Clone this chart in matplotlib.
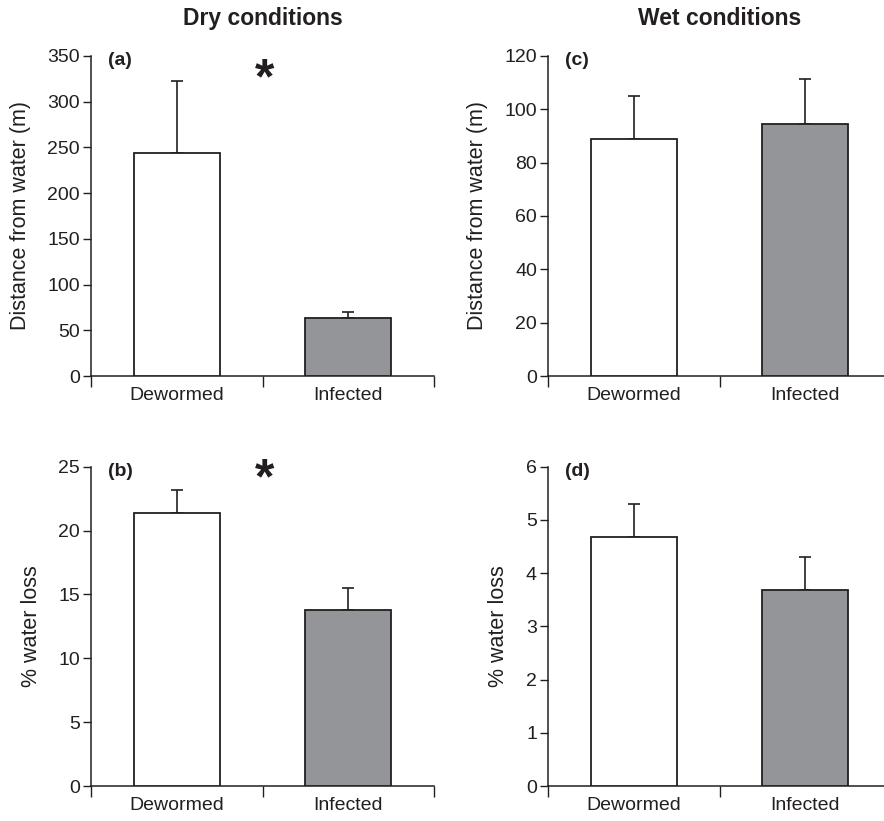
import numpy as np
import matplotlib.pyplot as plt

plt.rcParams['font.family'] = ['Liberation Sans', 'DejaVu Sans']

groups = ['Dewormed', 'Infected']
bar_colors = ['white', '#939598']

# means and upper error bar ends
dist_dry = [244, 63]
dist_dry_top = [322, 70]
loss_dry = [21.4, 13.8]
loss_dry_top = [23.2, 15.5]
dist_wet = [89, 94.5]
dist_wet_top = [105, 111.5]
loss_wet = [4.67, 3.69]
loss_wet_top = [5.29, 4.30]

panels = [
    # rect, means, tops, ymax, ystep, ylabel, letter, star height (axes fraction)
    ([0.103, 0.542, 0.388, 0.390], dist_dry, dist_dry_top, 350, 50, 'Distance from water (m)', '(a)', 0.925),
    ([0.103, 0.0426, 0.388, 0.389], loss_dry, loss_dry_top, 25, 5, '% water loss', '(b)', 0.958),
    ([0.620, 0.542, 0.388, 0.390], dist_wet, dist_wet_top, 120, 20, 'Distance from water (m)', '(c)', None),
    ([0.620, 0.0426, 0.388, 0.389], loss_wet, loss_wet_top, 6, 1, '% water loss', '(d)', None),
]

fig = plt.figure(figsize=(8.84, 8.21), dpi=100)
edge = '#231f20'
for rect, means, tops, ymax, ystep, ylabel, letter, star in panels:
    ax = fig.add_axes(rect)
    x = np.array([0.5, 1.5])
    ax.bar(x, means, width=0.5, color=bar_colors, edgecolor=edge, linewidth=1.3, zorder=3)
    err = np.array(tops) - np.array(means)
    ax.errorbar(x, means, yerr=[np.zeros(2), err], fmt='none', ecolor=edge,
                elinewidth=1.2, capsize=4.5, capthick=1.2, zorder=2)
    ax.set_xlim(0, 2)
    ax.set_ylim(0, ymax)
    ax.set_yticks(np.arange(0, ymax + ystep / 2, ystep))
    ax.set_xticks([0, 1, 2])
    ax.set_xticklabels([])
    ax.set_xticks(x, minor=True)
    ax.set_xticklabels(groups, minor=True)
    ax.tick_params(axis='x', which='major', length=8, width=1, color=edge)
    ax.tick_params(axis='x', which='minor', length=0, pad=8, labelsize=14, labelcolor=edge)
    ax.tick_params(axis='y', length=6, width=1, color=edge, labelsize=14, labelcolor=edge, pad=2)
    for s in ['top', 'right']:
        ax.spines[s].set_visible(False)
    for s in ['left', 'bottom']:
        ax.spines[s].set_color(edge)
        ax.spines[s].set_linewidth(1.1)
    ax.set_ylabel(ylabel, fontsize=15.5, color=edge, labelpad=12)
    ax.text(0.05, 0.985, letter, transform=ax.transAxes, fontsize=14, fontweight='bold',
            color=edge, ha='left', va='center')
    if star is not None:
        ax.text(0.505, star, '*', transform=ax.transAxes, fontsize=36, fontweight='bold',
                color=edge, ha='center', va='center')

fig.text(0.297, 0.978, 'Dry conditions', fontsize=16.5, fontweight='bold', color=edge,
         ha='center', va='center')
fig.text(0.814, 0.978, 'Wet conditions', fontsize=16.5, fontweight='bold', color=edge,
         ha='center', va='center')

fig.savefig('out.png', dpi=100)
